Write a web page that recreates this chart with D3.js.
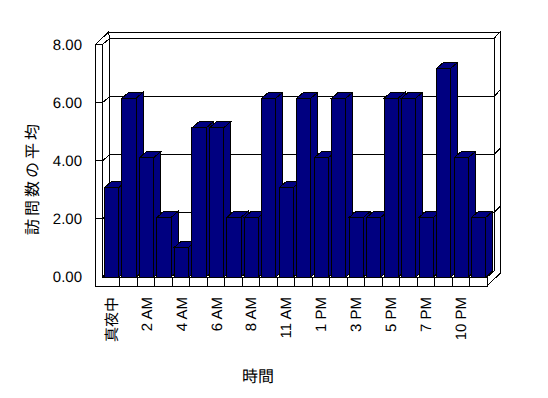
<!DOCTYPE html>
<html>
<head>
<meta charset="utf-8">
<script src="https://cdn.jsdelivr.net/npm/d3@7"></script>
<style>
  body { margin: 0; background: #fff; }
  svg { -webkit-font-smoothing: antialiased; }
  text { font-family: "Liberation Sans", Arial, "Noto Sans CJK JP", sans-serif; fill: #000; text-rendering: geometricPrecision; }
  .jp { font-family: "Noto Sans CJK JP", sans-serif; }
</style>
</head>
<body>
<div id="chart"></div>
<script>
// hours (two hours have no data, so 22 categories)
const categories = [
  "真夜中", "1 AM", "2 AM", "3 AM", "4 AM", "5 AM", "6 AM", "7 AM", "8 AM", "10 AM", "11 AM",
  "12 PM", "1 PM", "2 PM", "3 PM", "4 PM", "5 PM", "6 PM", "7 PM", "9 PM", "10 PM", "11 PM",
];
const visits = [3, 6, 4, 2, 1, 5, 5, 2, 2, 6, 3, 6, 4, 6, 2, 2, 6, 6, 2, 7, 4, 2];
const yTicks = [0, 2, 4, 6, 8];
const xTitle = "時間";
const yTitle = "訪問数の平均";

const width = 548;
const height = 398;

// front plane of the plot box + depth offsets (wall / floor slabs)
const XL = 102.5, XR = 487, YF = 277, YT = 44.5;
const D = { x: 7, y: -6 };   // plot depth
const T = { x: 6, y: -6.5 }; // back wall thickness
const tw = 7;                // left wall thickness
const tf = 9;                // floor thickness

const svg = d3
  .select("#chart")
  .append("svg")
  .attr("width", width)
  .attr("height", height);

svg.append("rect").attr("width", width).attr("height", height).attr("fill", "#fff");

const x = d3.scaleBand().domain(categories).range([XL, XR]);
const yWall = d3.scaleLinear().domain([0, 8]).range([YF, YT]);
const yBar = d3.scaleLinear().domain([0, 8]).range([YF, 38.5]);

const frame = svg
  .append("g")
  .attr("stroke", "#000")
  .attr("fill", "#fff")
  .attr("shape-rendering", "crispEdges");

const pts = (a) => a.map((p) => p.join(",")).join(" ");
const poly = (g, a) => g.append("polygon").attr("points", pts(a));

// back wall
poly(frame, [[XL + D.x, YT + D.y], [XR + D.x, YT + D.y], [XR + D.x, YF + D.y], [XL + D.x, YF + D.y]]);
poly(frame, [
  [XL - tw + D.x + T.x, YT + D.y + T.y], [XR + D.x + T.x, YT + D.y + T.y],
  [XR + D.x, YT + D.y], [XL + D.x, YT + D.y],
]);
// left wall inner face + top
poly(frame, [[XL, YT], [XL + D.x, YT + D.y], [XL + D.x, YF + D.y], [XL, YF]]);
poly(frame, [[XL - tw, YT], [XL, YT], [XL + D.x, YT + D.y], [XL - tw + D.x + T.x, YT + D.y + T.y]]);
// right side of floor + back wall
poly(frame, [
  [XR, YF], [XR, YF + tf], [XR + D.x + T.x, YF + tf + D.y + T.y],
  [XR + D.x + T.x, YT + D.y + T.y], [XR + D.x, YT + D.y], [XR + D.x, YF + D.y],
]);

// gridlines
frame
  .selectAll(".grid")
  .data(yTicks.filter((v) => v > 0 && v < 8))
  .join("polyline")
  .attr("class", "grid")
  .attr("fill", "none")
  .attr("points", (v) => {
    const y = yWall(v);
    return pts([[XL, y], [XL + D.x, y + D.y], [XR + D.x, y + D.y], [XR + D.x + T.x, y + D.y + T.y]]);
  });

// floor top
poly(frame, [[XL, YF], [XR, YF], [XR + D.x, YF + D.y], [XL + D.x, YF + D.y]]);

// bars, left to right so the next front face hides the previous side
const barW = 14.2, barOff = 2;
const bars = svg
  .append("g")
  .attr("fill", "#000080")
  .attr("stroke", "#000")
  .attr("shape-rendering", "crispEdges");

categories.forEach((c, i) => {
  const x0 = x(c) + barOff;
  const yt = yBar(visits[i]);
  const g = bars.append("g");
  g.append("polygon").attr("points", pts([
    [x0 + barW, yt], [x0 + barW + D.x, yt + D.y], [x0 + barW + D.x, YF + D.y], [x0 + barW, YF],
  ]));
  g.append("polygon").attr("points", pts([
    [x0, yt], [x0 + barW, yt], [x0 + barW + D.x, yt + D.y], [x0 + D.x, yt + D.y],
  ]));
  g.append("rect").attr("x", x0).attr("y", yt).attr("width", barW).attr("height", YF - yt);
});

// front edge of left wall and floor
const front = svg.append("g").attr("stroke", "#000").attr("fill", "#fff").attr("shape-rendering", "crispEdges");
poly(front, [[XL - tw, YT], [XL, YT], [XL, YF], [XR, YF], [XR, YF + tf], [XL - tw, YF + tf]]);

front
  .selectAll(".ytick")
  .data(yTicks.filter((v) => v > 0 && v < 8))
  .join("line")
  .attr("x1", XL - tw)
  .attr("x2", XL)
  .attr("y1", (v) => yWall(v))
  .attr("y2", (v) => yWall(v));

front
  .selectAll(".xtick")
  .data(d3.range(1, categories.length))
  .join("line")
  .attr("x1", (k) => XL + k * x.step())
  .attr("x2", (k) => XL + k * x.step())
  .attr("y1", YF)
  .attr("y2", YF + tf);

// y tick labels
svg
  .selectAll(".ylab")
  .data(yTicks)
  .join("text")
  .attr("x", 82)
  .attr("y", (v) => yWall(v))
  .attr("dy", "0.36em")
  .attr("text-anchor", "end")
  .attr("font-size", "15px")
  .text((v) => v.toFixed(2));

// x labels, every other category
svg
  .selectAll(".xlab")
  .data(categories.filter((c, i) => i % 2 === 0))
  .join("text")
  .attr("transform", (c) => `translate(${x(c) + x.bandwidth() / 2},297) rotate(-90)`)
  .attr("dy", "0.36em")
  .attr("text-anchor", "end")
  .attr("font-size", "15px")
  .text((c) => c);

// titles
svg
  .append("text")
  .attr("class", "jp")
  .attr("x", 258)
  .attr("y", 382)
  .attr("text-anchor", "middle")
  .attr("font-size", "16px")
  .text(xTitle);

svg
  .append("text")
  .attr("class", "jp")
  .attr("transform", "translate(32,178) rotate(-90)")
  .attr("dy", "0.36em")
  .attr("text-anchor", "middle")
  .attr("font-size", "16px")
  .attr("letter-spacing", "3px")
  .text(yTitle);
</script>
</body>
</html>
